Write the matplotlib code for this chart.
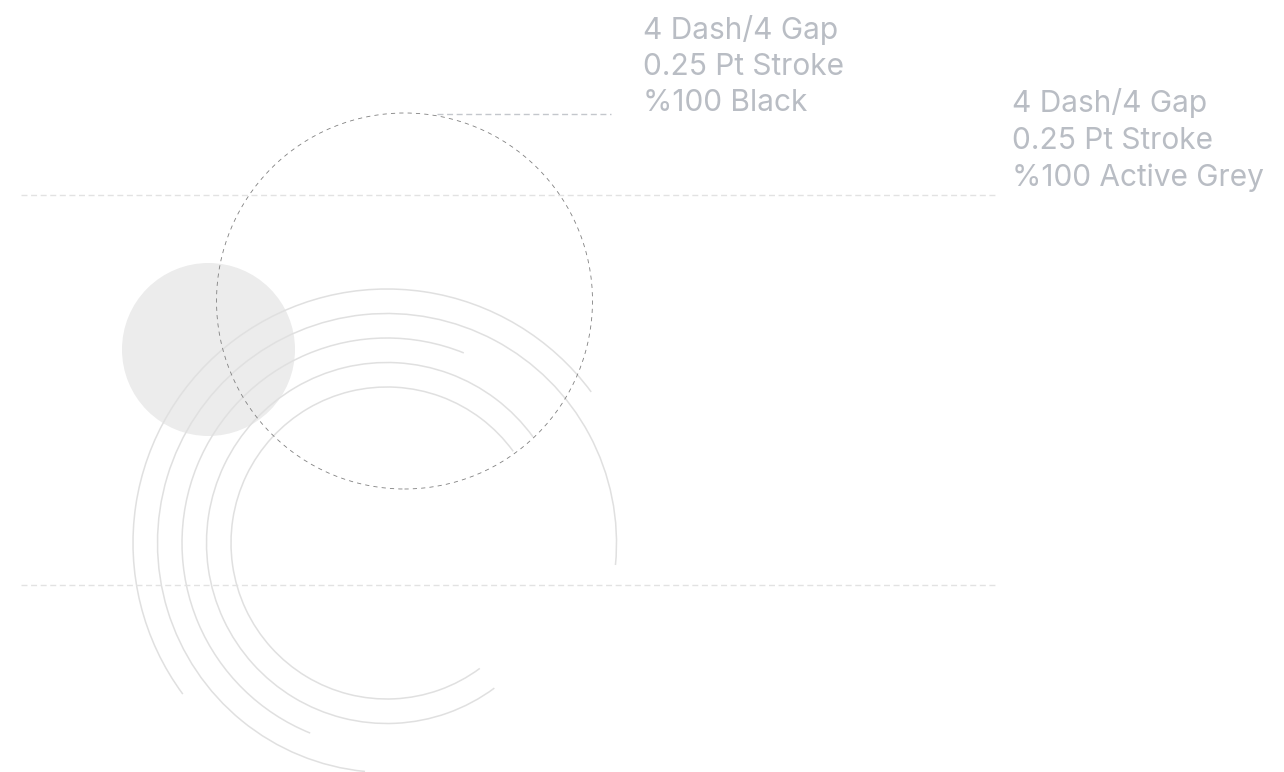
import numpy as np
import matplotlib
matplotlib.use("Agg")
import matplotlib.pyplot as plt
from matplotlib.patches import Arc, Circle

W, H = 1284, 772

# concentric arcs (pixel coords, y measured from top)
arc_center = (387, 543)
arc_radii = [254, 229.5, 205, 180.5, 156]
arc_start = [36.5, -5.5, 68, 36, 36]      # degrees, counter-clockwise
arc_end = [216.5, 264.5, 248, 306.5, 306.5]

# filled grey disc and dashed black circle
disc_center = (208.5, 349.5)
disc_radius = 86.5
dash_center = (404.5, 301)
dash_radius = 188

# guide lines
guide_y = [195, 585]
guide_x = (21, 997)
leader_y = 114
leader_x = (437, 611)

# annotations
note_black = ["4 Dash/4 Gap", "0.25 Pt Stroke", "%100 Black"]
note_grey = ["4 Dash/4 Gap", "0.25 Pt Stroke", "%100 Active Grey"]


def up(y):
    # flip pixel row to y-up data coordinate
    return H - y


plt.rcParams['lines.scale_dashes'] = False
fig = plt.figure(figsize=(W / 100, H / 100), dpi=100)
ax = fig.add_axes([0, 0, 1, 1])
ax.set_xlim(0, W)
ax.set_ylim(0, H)
ax.set_aspect('equal')
ax.axis('off')

ax.add_patch(Circle((disc_center[0], up(disc_center[1])), disc_radius,
                    facecolor='#ececec', edgecolor='none', zorder=1))

for r, t1, t2 in zip(arc_radii, arc_start, arc_end):
    ax.add_patch(Arc((arc_center[0], up(arc_center[1])), 2 * r, 2 * r,
                     theta1=t1, theta2=t2, color='#e0e0e0', lw=1.1, zorder=2))

for y in guide_y:
    ax.plot(guide_x, [up(y), up(y)], color='#e2e2e2', lw=1.0,
            linestyle=(0, (4.3, 2.6)), zorder=2)
ax.plot(leader_x, [up(leader_y), up(leader_y)], color='#c4c7cc', lw=1.0,
        linestyle=(0, (4.3, 2.6)), zorder=2)

ax.add_patch(Circle((dash_center[0], up(dash_center[1])), dash_radius,
                    facecolor='none', edgecolor='#808080', lw=0.6,
                    linestyle=(0, (3.0, 3.0)), zorder=3))

txt_kw = dict(color='#b9bdc4', fontsize=21.5, family='Inter',
              va='baseline', ha='left')
for i, s in enumerate(note_black):
    ax.text(643, up(39 + 36 * i), s, **txt_kw)
for i, s in enumerate(note_grey):
    ax.text(1012, up(112 + 37 * i), s, **txt_kw)

fig.savefig('out.png', dpi=100)
